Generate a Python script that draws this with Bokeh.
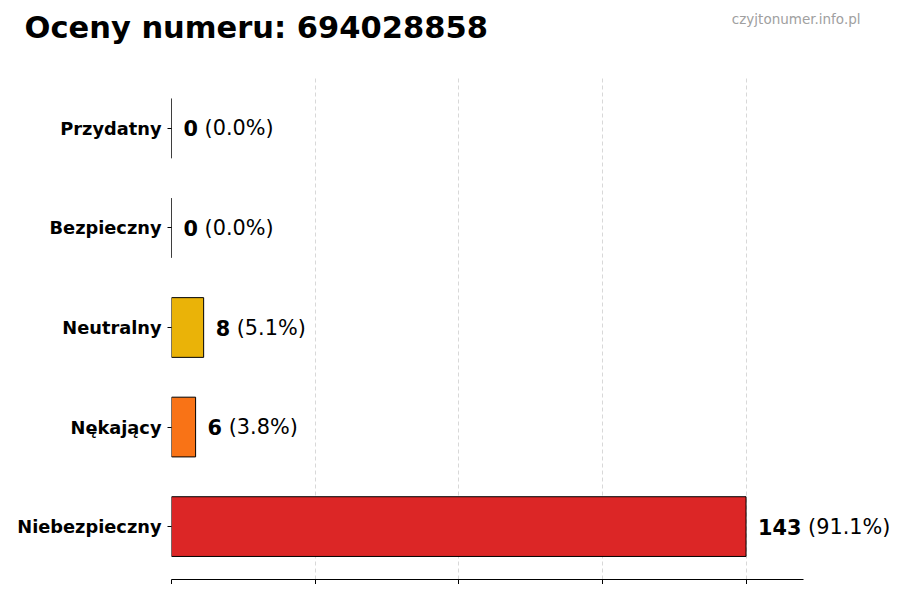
from bokeh.plotting import figure
from bokeh.models import ColumnDataSource, FactorRange, Range1d, FixedTicker, LabelSet, Title
from bokeh.core.properties import value
from bokeh.embed import file_html
from bokeh.resources import INLINE

# ---- data (top to bottom as shown) ----
categories = ["Przydatny", "Bezpieczny", "Neutralny", "Nękający", "Niebezpieczny"]
counts = [0, 0, 8, 6, 143]
colors = ["#22C55E", "#3B82F6", "#EAB308", "#F97316", "#DC2626"]
x_ticks = [0, 35.75, 71.5, 107.25, 143]
title_text = "Oceny numeru: 694028858"
watermark_text = "czyjtonumer.info.pl"

FONT = "DejaVu Sans"
VAL_FS = 20.8
W = 890
total = sum(counts)
pcts = ["(%.1f%%)" % (100.0 * c / total) for c in counts]
nums = [str(c) for c in counts]
num_off = [12 for _ in counts]
pct_off = [12 + len(s) * 0.696 * VAL_FS + 0.318 * VAL_FS for s in nums]

src = ColumnDataSource(dict(cat=categories, count=counts, color=colors,
                            num=nums, pct=pcts, num_off=num_off, pct_off=pct_off))

LEFT = 171
TOP = 75
axis_end = max(counts) * 1.1
frame_w = W - LEFT
x_end = axis_end * frame_w / 632.0

# title panels collapse to zero height (negative standoff); the text is then
# lifted above the frame top by standoff/2 (vertical_align="top")
WM_FS, TT_FS = 13.5, 30.5
wm_top = 26.5 - 1.164 * WM_FS
tt_top = 44.7 - 1.164 * TT_FS
wm_standoff = 2 * (wm_top - TOP)
tt_standoff = 2 * (tt_top - TOP)

factors = list(reversed(categories))
p = figure(width=W, height=584, output_backend="svg", toolbar_location=None,
           y_range=FactorRange(factors=factors, range_padding=0.0126),
           x_range=Range1d(0, x_end),
           min_border_left=LEFT, min_border_right=0, min_border_top=TOP, min_border_bottom=5)
p.outline_line_color = None
p.background_fill_color = "white"
p.border_fill_color = "white"

p.title = Title(text=title_text, text_font=FONT, text_font_size="%.1fpx" % TT_FS,
                text_font_style="bold", text_color="black", align="left",
                vertical_align="top", offset=24 - LEFT, standoff=tt_standoff)
p.add_layout(Title(text=watermark_text, text_font=FONT, text_font_size="%.1fpx" % WM_FS,
                   text_font_style="normal", text_color="#a0a0a0", align="right",
                   vertical_align="top", offset=W - 860, standoff=wm_standoff), "above")

p.hbar(y="cat", left=0, right="count", height=0.6, source=src,
       fill_color="color", line_color="black", line_width=1)

p.add_layout(LabelSet(x="count", y="cat", text="num", source=src, x_offset="num_off",
                      text_font=value(FONT), text_font_size="%.1fpx" % VAL_FS,
                      text_font_style="bold", text_baseline="middle", text_align="left",
                      text_color="black"))
p.add_layout(LabelSet(x="count", y="cat", text="pct", source=src, x_offset="pct_off",
                      text_font=value(FONT), text_font_size="%.1fpx" % VAL_FS,
                      text_baseline="middle", text_align="left", text_color="black"))

# axes
p.xaxis.ticker = FixedTicker(ticks=x_ticks)
p.xaxis.bounds = (0, axis_end)
p.xaxis.major_label_text_font_size = "0px"
p.xaxis.major_label_standoff = 0
p.xaxis.axis_line_color = "black"
p.xaxis.major_tick_line_color = "black"
p.xaxis.major_tick_out = 5
p.xaxis.major_tick_in = 0
p.xaxis.minor_tick_line_color = None

p.yaxis.axis_line_color = None
p.yaxis.major_tick_line_color = "black"
p.yaxis.major_tick_out = 4
p.yaxis.major_tick_in = 0
p.yaxis.minor_tick_line_color = None
p.yaxis.major_label_text_font = FONT
p.yaxis.major_label_text_font_size = "17.8px"
p.yaxis.major_label_text_font_style = "bold"
p.yaxis.major_label_text_color = "black"
p.yaxis.major_label_standoff = 6

p.xgrid.grid_line_color = "#d8d8d8"
p.xgrid.grid_line_dash = "4 3"
p.xgrid.grid_line_width = 1
p.ygrid.grid_line_color = None

open("out.html", "w").write(file_html(p, INLINE))
